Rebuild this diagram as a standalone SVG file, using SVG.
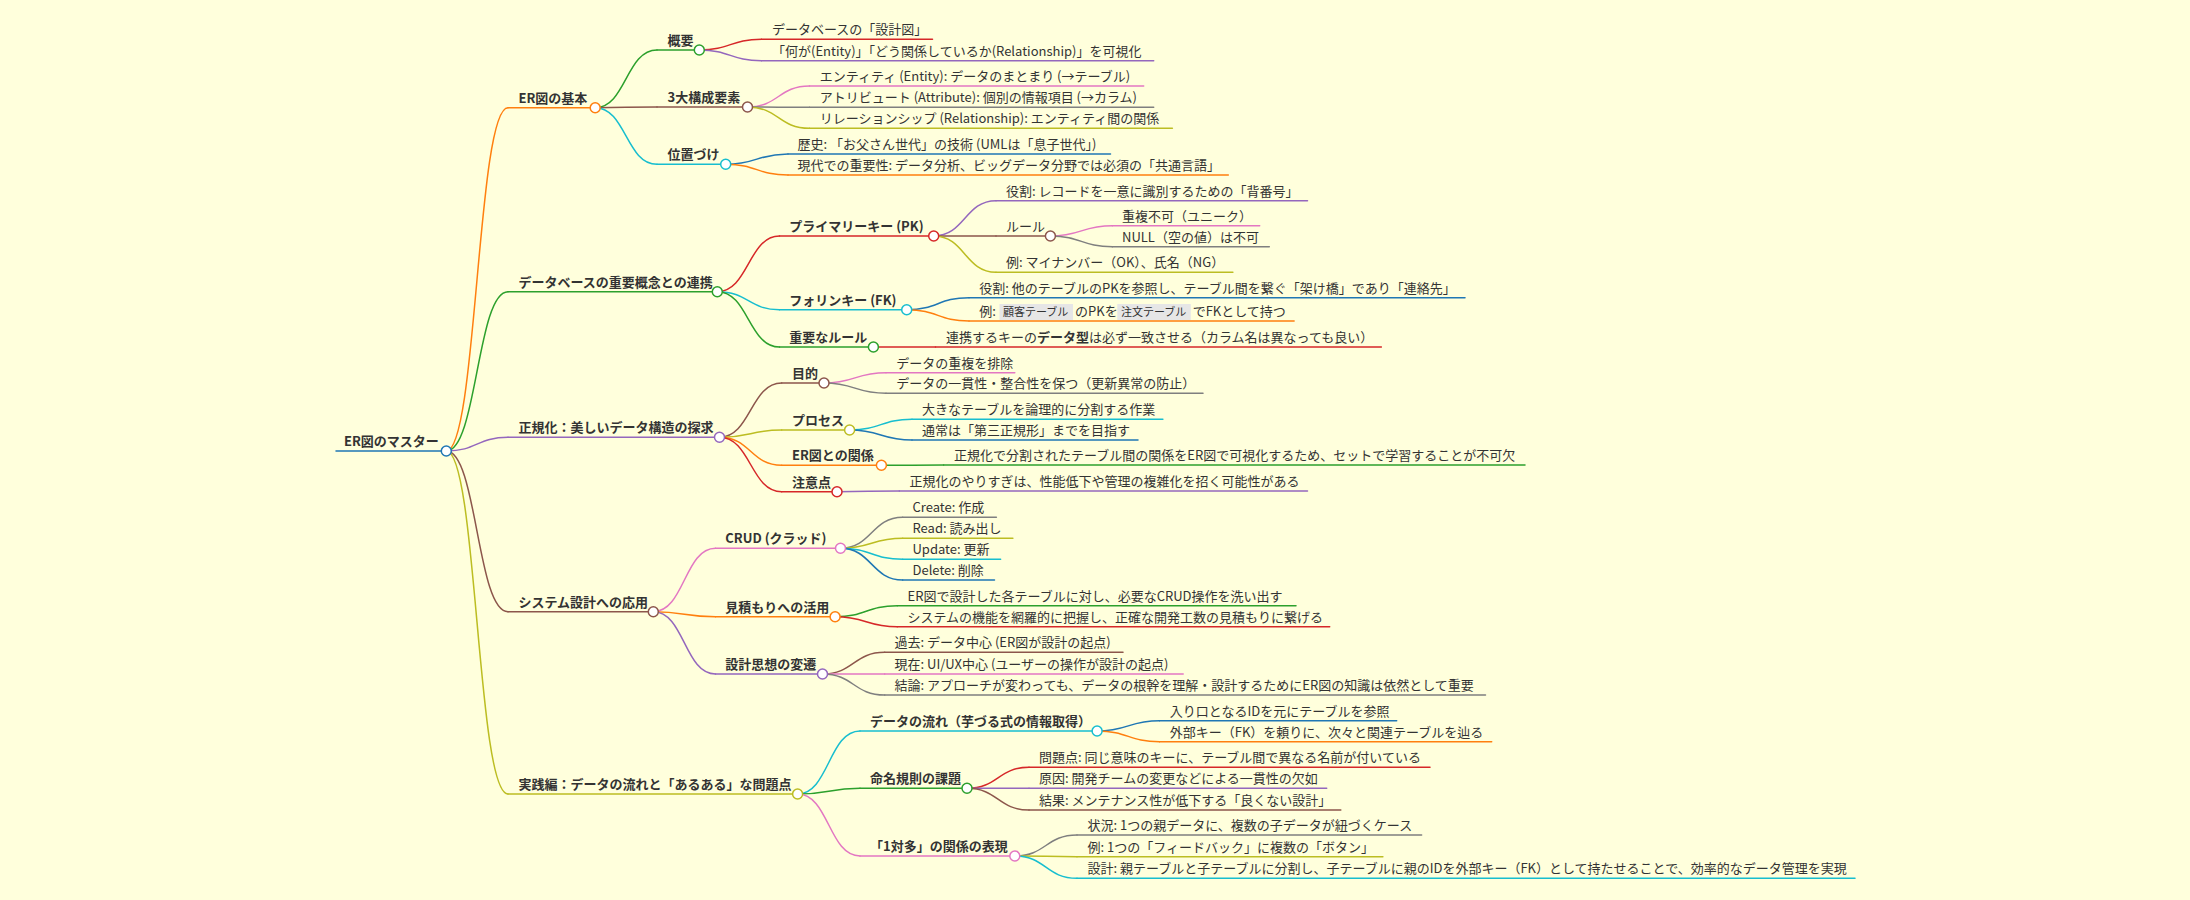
<svg xmlns="http://www.w3.org/2000/svg" width="2190" height="900" viewBox="0 0 2190 900">
<style>
text{font-family:"Noto Sans CJK JP","Noto Sans",sans-serif;font-size:13px;fill:#333}
.b{font-weight:700}
.code{font-size:11px}
.cb{fill:#e6e6e6}
path,line{fill:none;stroke-width:1.5;stroke-linecap:round}
circle{fill:#fff;stroke-width:1.5}
.c0{stroke:#1f77b4}.c1{stroke:#ff7f0e}.c2{stroke:#2ca02c}.c3{stroke:#d62728}.c4{stroke:#9467bd}
.c5{stroke:#8c564b}.c6{stroke:#e377c2}.c7{stroke:#7f7f7f}.c8{stroke:#bcbd22}.c9{stroke:#17becf}
</style>
<rect width="2190" height="900" fill="#ffffdc"/>
<g id="connectors">
<path class="c1" d="M446.3,451C477,451 477,107.7 508,107.7"/>
<path class="c2" d="M446.3,451C477,451 477,291.7 508,291.7"/>
<path class="c4" d="M446.3,451C477,451 477,437.3 508,437.3"/>
<path class="c5" d="M446.3,451C477,451 477,611.7 508,611.7"/>
<path class="c8" d="M446.3,451C477,451 477,794 508,794"/>
<path class="c2" d="M595.2,107.7C626,107.7 626,50 657,50"/>
<path class="c5" d="M595.2,107.7C626,107.7 626,107 657,107"/>
<path class="c9" d="M595.2,107.7C626,107.7 626,164.3 657,164.3"/>
<path class="c3" d="M699.3,50C730.4,50 730.4,39.3 761.5,39.3"/>
<path class="c4" d="M699.3,50C730.4,50 730.4,60.7 761.5,60.7"/>
<path class="c6" d="M747.5,107C778.5,107 778.5,86 809.5,86"/>
<path class="c7" d="M747.5,107C778.5,107 778.5,107.3 809.5,107.3"/>
<path class="c8" d="M747.5,107C778.5,107 778.5,128.3 809.5,128.3"/>
<path class="c0" d="M725.7,164.3C756.9,164.3 756.9,154 788,154"/>
<path class="c1" d="M725.7,164.3C756.9,164.3 756.9,175 788,175"/>
<path class="c3" d="M717.3,291.7C748.4,291.7 748.4,236 779.5,236"/>
<path class="c9" d="M717.3,291.7C748.4,291.7 748.4,309.7 779.5,309.7"/>
<path class="c2" d="M717.3,291.7C748.4,291.7 748.4,347 779.5,347"/>
<path class="c4" d="M933.7,236C964.9,236 964.9,200.7 996,200.7"/>
<path class="c5" d="M933.7,236C964.9,236 964.9,236 996,236"/>
<path class="c8" d="M933.7,236C964.9,236 964.9,272.3 996,272.3"/>
<path class="c6" d="M1050.4,236C1081.4,236 1081.4,225.7 1112.4,225.7"/>
<path class="c7" d="M1050.4,236C1081.4,236 1081.4,246.7 1112.4,246.7"/>
<path class="c0" d="M906.7,309.7C937.9,309.7 937.9,297.7 969,297.7"/>
<path class="c1" d="M906.7,309.7C937.9,309.7 937.9,321 969,321"/>
<path class="c3" d="M873.4,347C904.5,347 904.5,347 935.5,347"/>
<path class="c5" d="M719.5,437.3C750.6,437.3 750.6,383 781.7,383"/>
<path class="c8" d="M719.5,437.3C750.6,437.3 750.6,430 781.7,430"/>
<path class="c1" d="M719.5,437.3C750.6,437.3 750.6,465.3 781.7,465.3"/>
<path class="c3" d="M719.5,437.3C750.6,437.3 750.6,491.7 781.7,491.7"/>
<path class="c6" d="M824,383C855,383 855,372.7 886,372.7"/>
<path class="c7" d="M824,383C855,383 855,393.3 886,393.3"/>
<path class="c9" d="M849.6,430C880.8,430 880.8,419.3 912,419.3"/>
<path class="c0" d="M849.6,430C880.8,430 880.8,440 912,440"/>
<path class="c2" d="M881.4,465.3C912.5,465.3 912.5,465 943.6,465"/>
<path class="c4" d="M837,491.7C868.2,491.7 868.2,491 899.3,491"/>
<path class="c6" d="M653.3,611.7C684.4,611.7 684.4,548.3 715.5,548.3"/>
<path class="c1" d="M653.3,611.7C684.4,611.7 684.4,616.7 715.5,616.7"/>
<path class="c4" d="M653.3,611.7C684.4,611.7 684.4,674 715.5,674"/>
<path class="c7" d="M840.5,548.3C871.6,548.3 871.6,517.3 902.7,517.3"/>
<path class="c8" d="M840.5,548.3C871.6,548.3 871.6,538.3 902.7,538.3"/>
<path class="c9" d="M840.5,548.3C871.6,548.3 871.6,559.3 902.7,559.3"/>
<path class="c0" d="M840.5,548.3C871.6,548.3 871.6,580 902.7,580"/>
<path class="c2" d="M835.1,616.7C866.2,616.7 866.2,605.7 897.3,605.7"/>
<path class="c3" d="M835.1,616.7C866.2,616.7 866.2,626.7 897.3,626.7"/>
<path class="c5" d="M822.5,674C853.6,674 853.6,652.3 884.7,652.3"/>
<path class="c6" d="M822.5,674C853.6,674 853.6,674 884.7,674"/>
<path class="c7" d="M822.5,674C853.6,674 853.6,695 884.7,695"/>
<path class="c9" d="M797.6,794C828.8,794 828.8,731 860,731"/>
<path class="c2" d="M797.6,794C828.8,794 828.8,788.3 860,788.3"/>
<path class="c6" d="M797.6,794C828.8,794 828.8,856 860,856"/>
<path class="c0" d="M1097.1,731C1128.3,731 1128.3,720.7 1159.5,720.7"/>
<path class="c1" d="M1097.1,731C1128.3,731 1128.3,741.7 1159.5,741.7"/>
<path class="c3" d="M967,788.3C998,788.3 998,767.3 1029,767.3"/>
<path class="c4" d="M967,788.3C998,788.3 998,788.3 1029,788.3"/>
<path class="c5" d="M967,788.3C998,788.3 998,810 1029,810"/>
<path class="c7" d="M1014.8,856C1045.9,856 1045.9,835 1077,835"/>
<path class="c8" d="M1014.8,856C1045.9,856 1045.9,856.7 1077,856.7"/>
<path class="c9" d="M1014.8,856C1045.9,856 1045.9,878.3 1077,878.3"/>
</g>

<g id="n-root"><line class="c0" x1="336" y1="451" x2="446.3" y2="451"/><circle class="c0" cx="446.3" cy="451" r="5"/><text class="b" x="344" y="446">ER図のマスター</text></g>

<g id="n-er-basic"><line class="c1" x1="508" y1="107.7" x2="595.2" y2="107.7"/><circle class="c1" cx="595.2" cy="107.7" r="5"/><text class="b" x="518.5" y="102.7">ER図の基本</text></g>
<g id="n-gaiyo"><line class="c2" x1="657" y1="50" x2="699.3" y2="50"/><circle class="c2" cx="699.3" cy="50" r="5"/><text class="b" x="667.5" y="45">概要</text></g>
<g id="n-gaiyo-1"><line class="c3" x1="761.5" y1="39.3" x2="932.5" y2="39.3"/><text x="772" y="34.3">データベースの「設計図」</text></g>
<g id="n-gaiyo-2"><line class="c4" x1="761.5" y1="60.7" x2="1153.7" y2="60.7"/><text x="772" y="55.7">「何が(Entity)」「どう関係しているか(Relationship)」を可視化</text></g>
<g id="n-3dai"><line class="c5" x1="657" y1="107" x2="747.5" y2="107"/><circle class="c5" cx="747.5" cy="107" r="5"/><text class="b" x="667.5" y="102">3大構成要素</text></g>
<g id="n-3dai-1"><line class="c6" x1="809.5" y1="86" x2="1143.7" y2="86"/><text x="819.8" y="81">エンティティ (Entity): データのまとまり (→テーブル)</text></g>
<g id="n-3dai-2"><line class="c7" x1="809.5" y1="107.3" x2="1153.7" y2="107.3"/><text x="819.8" y="102.3">アトリビュート (Attribute): 個別の情報項目 (→カラム)</text></g>
<g id="n-3dai-3"><line class="c8" x1="809.5" y1="128.3" x2="1172.4" y2="128.3"/><text x="819.8" y="123.3">リレーションシップ (Relationship): エンティティ間の関係</text></g>
<g id="n-ichi"><line class="c9" x1="657" y1="164.3" x2="725.7" y2="164.3"/><circle class="c9" cx="725.7" cy="164.3" r="5"/><text class="b" x="667.5" y="159.3">位置づけ</text></g>
<g id="n-ichi-1"><line class="c0" x1="788" y1="154" x2="1110.5" y2="154"/><text x="797.6" y="149">歴史: 「お父さん世代」の技術 (UMLは「息子世代」)</text></g>
<g id="n-ichi-2"><line class="c1" x1="788" y1="175" x2="1228.3" y2="175"/><text x="797.6" y="170">現代での重要性: データ分析、ビッグデータ分野では必須の「共通言語」</text></g>

<g id="n-db"><line class="c2" x1="508" y1="291.7" x2="717.3" y2="291.7"/><circle class="c2" cx="717.3" cy="291.7" r="5"/><text class="b" x="518.5" y="286.7">データベースの重要概念との連携</text></g>
<g id="n-pk"><line class="c3" x1="779.5" y1="236" x2="933.7" y2="236"/><circle class="c3" cx="933.7" cy="236" r="5"/><text class="b" x="789.2" y="231">プライマリーキー (PK)</text></g>
<g id="n-pk-1"><line class="c4" x1="996" y1="200.7" x2="1307.5" y2="200.7"/><text x="1006" y="195.7">役割: レコードを一意に識別するための「背番号」</text></g>
<g id="n-pk-rule"><line class="c5" x1="996" y1="236" x2="1050.4" y2="236"/><circle class="c5" cx="1050.4" cy="236" r="5"/><text x="1006" y="231">ルール</text></g>
<g id="n-pk-rule-1"><line class="c6" x1="1112.4" y1="225.7" x2="1259.7" y2="225.7"/><text x="1122" y="220.7">重複不可（ユニーク）</text></g>
<g id="n-pk-rule-2"><line class="c7" x1="1112.4" y1="246.7" x2="1269.3" y2="246.7"/><text x="1122" y="241.7">NULL（空の値）は不可</text></g>
<g id="n-pk-3"><line class="c8" x1="996" y1="272.3" x2="1232.9" y2="272.3"/><text x="1006" y="267.3">例: マイナンバー（OK）、氏名（NG）</text></g>
<g id="n-fk"><line class="c9" x1="779.5" y1="309.7" x2="906.7" y2="309.7"/><circle class="c9" cx="906.7" cy="309.7" r="5"/><text class="b" x="789.2" y="304.7">フォリンキー (FK)</text></g>
<g id="n-fk-1"><line class="c0" x1="969" y1="297.7" x2="1465" y2="297.7"/><text x="979.2" y="292.7">役割: 他のテーブルのPKを参照し、テーブル間を繋ぐ「架け橋」であり「連絡先」</text></g>
<g id="n-fk-2"><line class="c1" x1="969" y1="321" x2="1294.1" y2="321"/><rect class="cb" x="999.5" y="304" width="73.5" height="16"/><rect class="cb" x="1117.3" y="304" width="73.5" height="16"/><text x="979.2" y="316">例:<tspan class="code" x="1003" y="316">顧客テーブル</tspan><tspan x="1075" y="316">のPKを</tspan><tspan class="code" x="1121" y="316">注文テーブル</tspan><tspan x="1192.7" y="316">でFKとして持つ</tspan></text></g>
<g id="n-rule"><line class="c2" x1="779.5" y1="347" x2="873.4" y2="347"/><circle class="c2" cx="873.4" cy="347" r="5"/><text class="b" x="789.2" y="342">重要なルール</text></g>
<g id="n-rule-1"><line class="c3" x1="935.5" y1="347" x2="1381.4" y2="347"/><text x="945.9" y="342">連携するキーの<tspan class="b">データ型</tspan>は必ず一致させる（カラム名は異なっても良い）</text></g>

<g id="n-norm"><line class="c4" x1="508" y1="437.3" x2="719.5" y2="437.3"/><circle class="c4" cx="719.5" cy="437.3" r="5"/><text class="b" x="518.5" y="432.3">正規化：美しいデータ構造の探求</text></g>
<g id="n-purpose"><line class="c5" x1="781.7" y1="383" x2="824" y2="383"/><circle class="c5" cx="824" cy="383" r="5"/><text class="b" x="792" y="378">目的</text></g>
<g id="n-purpose-1"><line class="c6" x1="886" y1="372.7" x2="1014.8" y2="372.7"/><text x="896.3" y="367.7">データの重複を排除</text></g>
<g id="n-purpose-2"><line class="c7" x1="886" y1="393.3" x2="1203" y2="393.3"/><text x="896.3" y="388.3">データの一貫性・整合性を保つ（更新異常の防止）</text></g>
<g id="n-process"><line class="c8" x1="781.7" y1="430" x2="849.6" y2="430"/><circle class="c8" cx="849.6" cy="430" r="5"/><text class="b" x="792" y="425">プロセス</text></g>
<g id="n-process-1"><line class="c9" x1="912" y1="419.3" x2="1162.9" y2="419.3"/><text x="922" y="414.3">大きなテーブルを論理的に分割する作業</text></g>
<g id="n-process-2"><line class="c0" x1="912" y1="440" x2="1138" y2="440"/><text x="922" y="435">通常は「第三正規形」までを目指す</text></g>
<g id="n-errel"><line class="c1" x1="781.7" y1="465.3" x2="881.4" y2="465.3"/><circle class="c1" cx="881.4" cy="465.3" r="5"/><text class="b" x="792" y="460.3">ER図との関係</text></g>
<g id="n-errel-1"><line class="c2" x1="943.6" y1="465" x2="1525" y2="465"/><text x="954" y="460">正規化で分割されたテーブル間の関係をER図で可視化するため、セットで学習することが不可欠</text></g>
<g id="n-caution"><line class="c3" x1="781.7" y1="491.7" x2="837" y2="491.7"/><circle class="c3" cx="837" cy="491.7" r="5"/><text class="b" x="792" y="486.7">注意点</text></g>
<g id="n-caution-1"><line class="c4" x1="899.3" y1="491" x2="1307.5" y2="491"/><text x="909.6" y="486">正規化のやりすぎは、性能低下や管理の複雑化を招く可能性がある</text></g>

<g id="n-sys"><line class="c5" x1="508" y1="611.7" x2="653.3" y2="611.7"/><circle class="c5" cx="653.3" cy="611.7" r="5"/><text class="b" x="518.5" y="606.7">システム設計への応用</text></g>
<g id="n-crud"><line class="c6" x1="715.5" y1="548.3" x2="840.5" y2="548.3"/><circle class="c6" cx="840.5" cy="548.3" r="5"/><text class="b" x="725.3" y="543.3">CRUD (クラッド)</text></g>
<g id="n-crud-c"><line class="c7" x1="902.7" y1="517.3" x2="996.4" y2="517.3"/><text x="912.5" y="512.3">Create: 作成</text></g>
<g id="n-crud-r"><line class="c8" x1="902.7" y1="538.3" x2="1012.9" y2="538.3"/><text x="912.5" y="533.3">Read: 読み出し</text></g>
<g id="n-crud-u"><line class="c9" x1="902.7" y1="559.3" x2="1000.6" y2="559.3"/><text x="912.5" y="554.3">Update: 更新</text></g>
<g id="n-crud-d"><line class="c0" x1="902.7" y1="580" x2="994.5" y2="580"/><text x="912.5" y="575">Delete: 削除</text></g>
<g id="n-est"><line class="c1" x1="715.5" y1="616.7" x2="835.1" y2="616.7"/><circle class="c1" cx="835.1" cy="616.7" r="5"/><text class="b" x="725.3" y="611.7">見積もりへの活用</text></g>
<g id="n-est-1"><line class="c2" x1="897.3" y1="605.7" x2="1296" y2="605.7"/><text x="907.5" y="600.7">ER図で設計した各テーブルに対し、必要なCRUD操作を洗い出す</text></g>
<g id="n-est-2"><line class="c3" x1="897.3" y1="626.7" x2="1329.7" y2="626.7"/><text x="907.5" y="621.7">システムの機能を網羅的に把握し、正確な開発工数の見積もりに繋げる</text></g>
<g id="n-phil"><line class="c4" x1="715.5" y1="674" x2="822.5" y2="674"/><circle class="c4" cx="822.5" cy="674" r="5"/><text class="b" x="725.3" y="669">設計思想の変遷</text></g>
<g id="n-phil-1"><line class="c5" x1="884.7" y1="652.3" x2="1123" y2="652.3"/><text x="894.5" y="647.3">過去: データ中心 (ER図が設計の起点)</text></g>
<g id="n-phil-2"><line class="c6" x1="884.7" y1="674" x2="1183.2" y2="674"/><text x="894.5" y="669">現在: UI/UX中心 (ユーザーの操作が設計の起点)</text></g>
<g id="n-phil-3"><line class="c7" x1="884.7" y1="695" x2="1485.5" y2="695"/><text x="894.5" y="690">結論: アプローチが変わっても、データの根幹を理解・設計するためにER図の知識は依然として重要</text></g>

<g id="n-prac"><line class="c8" x1="508" y1="794" x2="797.6" y2="794"/><circle class="c8" cx="797.6" cy="794" r="5"/><text class="b" x="518.5" y="789">実践編：データの流れと「あるある」な問題点</text></g>
<g id="n-flow"><line class="c9" x1="860" y1="731" x2="1097.1" y2="731"/><circle class="c9" cx="1097.1" cy="731" r="5"/><text class="b" x="870" y="726">データの流れ（芋づる式の情報取得）</text></g>
<g id="n-flow-1"><line class="c0" x1="1159.5" y1="720.7" x2="1396.7" y2="720.7"/><text x="1169.8" y="715.7">入り口となるIDを元にテーブルを参照</text></g>
<g id="n-flow-2"><line class="c1" x1="1159.5" y1="741.7" x2="1491.7" y2="741.7"/><text x="1169.8" y="736.7">外部キー（FK）を頼りに、次々と関連テーブルを辿る</text></g>
<g id="n-naming"><line class="c2" x1="860" y1="788.3" x2="967" y2="788.3"/><circle class="c2" cx="967" cy="788.3" r="5"/><text class="b" x="870" y="783.3">命名規則の課題</text></g>
<g id="n-naming-1"><line class="c3" x1="1029" y1="767.3" x2="1430" y2="767.3"/><text x="1039" y="762.3">問題点: 同じ意味のキーに、テーブル間で異なる名前が付いている</text></g>
<g id="n-naming-2"><line class="c4" x1="1029" y1="788.3" x2="1326.7" y2="788.3"/><text x="1039" y="783.3">原因: 開発チームの変更などによる一貫性の欠如</text></g>
<g id="n-naming-3"><line class="c5" x1="1029" y1="810" x2="1340.8" y2="810"/><text x="1039" y="805">結果: メンテナンス性が低下する「良くない設計」</text></g>
<g id="n-1n"><line class="c6" x1="860" y1="856" x2="1014.8" y2="856"/><circle class="c6" cx="1014.8" cy="856" r="5"/><text class="b" x="870" y="851">「1対多」の関係の表現</text></g>
<g id="n-1n-1"><line class="c7" x1="1077" y1="835" x2="1421.6" y2="835"/><text x="1087.5" y="830">状況: 1つの親データに、複数の子データが紐づくケース</text></g>
<g id="n-1n-2"><line class="c8" x1="1077" y1="856.7" x2="1382.9" y2="856.7"/><text x="1087.5" y="851.7">例: 1つの「フィードバック」に複数の「ボタン」</text></g>
<g id="n-1n-3"><line class="c9" x1="1077" y1="878.3" x2="1855" y2="878.3"/><text x="1087.5" y="873.3">設計: 親テーブルと子テーブルに分割し、子テーブルに親のIDを外部キー（FK）として持たせることで、効率的なデータ管理を実現</text></g>
</svg>
